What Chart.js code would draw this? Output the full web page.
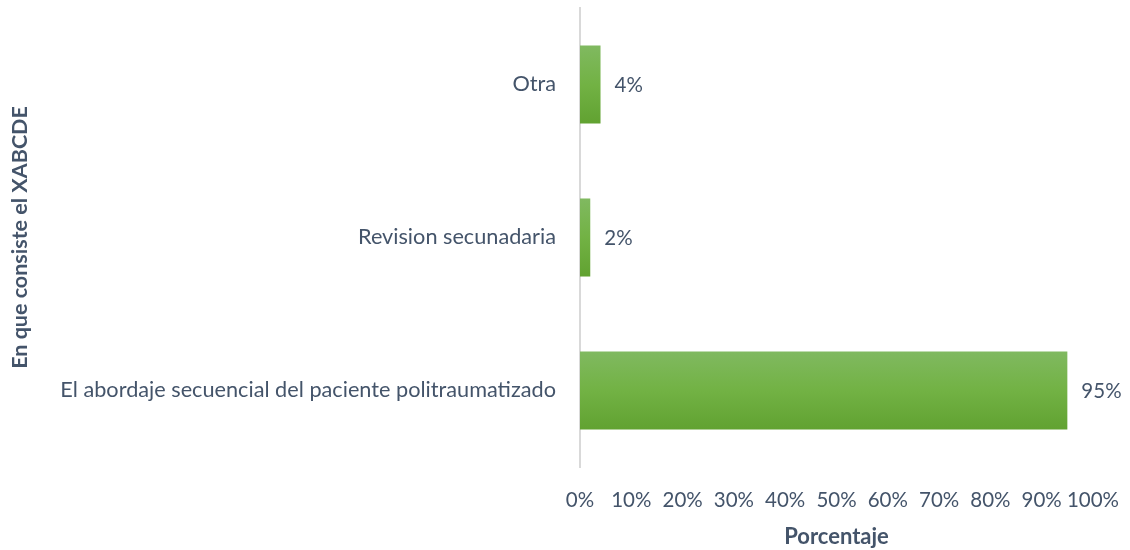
<!DOCTYPE html>
<html>
<head>
<meta charset="utf-8">
<script src="https://cdn.jsdelivr.net/npm/chart.js@4"></script>
<style>
  html, body { margin: 0; padding: 0; background: #fff; }
  #wrap { width: 1130px; height: 550px; }
</style>
</head>
<body>
<div id="wrap"><canvas id="myChart" width="1130" height="550"></canvas></div>
<script>
const categories = [
  "Otra",
  "Revision secunadaria",
  "El abordaje secuencial del paciente politraumatizado",
];
const porcentajes = [4, 2, 95];
const xTicks = [0, 10, 20, 30, 40, 50, 60, 70, 80, 90, 100];

const textColor = "#44546A";
const fontFam = "Lato, 'Open Sans', sans-serif";

// etiquetas de valor a la derecha de cada barra
const valueLabels = {
  id: "valueLabels",
  afterDatasetsDraw(chart) {
    const c = chart.ctx;
    const meta = chart.getDatasetMeta(0);
    c.save();
    c.font = "20.5px " + fontFam;
    c.fillStyle = textColor;
    c.textAlign = "left";
    c.textBaseline = "middle";
    meta.data.forEach((bar, i) => {
      c.fillText(porcentajes[i] + "%", bar.x + 14, bar.y + 1);
    });
    c.restore();
  },
};

const ctx = document.getElementById("myChart").getContext("2d");
const myChart = new Chart(ctx, {
  type: "bar",
  data: {
    labels: categories,
    datasets: [
      {
        label: "Porcentaje",
        data: porcentajes,
        barPercentage: 1,
        categoryPercentage: 0.51,
        backgroundColor: function (context) {
          const chart = context.chart;
          const y = chart.scales.y;
          if (!y || !chart.chartArea) return "#70AD47";
          const cy = y.getPixelForValue(context.dataIndex);
          const half = (chart.chartArea.height / categories.length) * 0.51 / 2;
          const g = chart.ctx.createLinearGradient(0, cy - half, 0, cy + half);
          g.addColorStop(0, "#80B960");
          g.addColorStop(0.5, "#72B244");
          g.addColorStop(1, "#61A231");
          return g;
        },
      },
    ],
  },
  options: {
    indexAxis: "y",
    responsive: false,
    animation: false,
    layout: { padding: { top: 8, right: 37, left: 0, bottom: 0 } },
    plugins: {
      legend: { display: false },
      tooltip: { enabled: false },
    },
    scales: {
      x: {
        min: 0,
        max: 100,
        afterBuildTicks: (axis) => {
          axis.ticks = xTicks.map((v) => ({ value: v }));
        },
        afterFit: (axis) => {
          axis.height = 83;
          axis.paddingLeft = 0;
          axis.paddingRight = 0;
        },
        grid: { display: false, drawTicks: false },
        border: { display: false },
        ticks: {
          color: textColor,
          font: { family: fontFam, size: 20.5 },
          padding: 21,
          maxRotation: 0,
          autoSkip: false,
          callback: (v) => v + "%",
        },
        title: {
          display: true,
          text: "Porcentaje",
          color: textColor,
          font: { family: fontFam, size: 22, weight: "bold" },
          padding: { top: 0, bottom: 0 },
        },
      },
      y: {
        afterFit: (axis) => {
          axis.width = 580;
          axis.paddingTop = 0;
          axis.paddingBottom = 0;
        },
        grid: { display: false, drawTicks: false },
        border: { display: true, color: "#D9D9D9", width: 2 },
        ticks: {
          color: textColor,
          font: { family: fontFam, size: 21.7 },
          padding: 24,
        },
        title: {
          display: true,
          text: "En que consiste el XABCDE",
          color: textColor,
          font: { family: fontFam, size: 21.5, weight: "bold" },
          padding: { top: 7, bottom: 0 },
        },
      },
    },
  },
  plugins: [valueLabels],
});
</script>
</body>
</html>
